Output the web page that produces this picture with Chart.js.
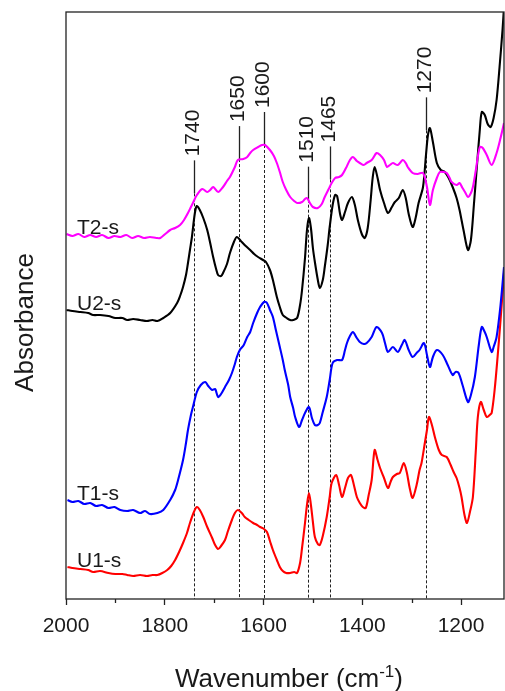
<!DOCTYPE html>
<html>
<head>
<meta charset="utf-8">
<script src="https://cdn.jsdelivr.net/npm/chart.js@4/dist/chart.umd.min.js"></script>
<style>
  html, body { margin: 0; padding: 0; background: #fff; }
  canvas { display: block; }
</style>
</head>
<body>
<canvas id="ftir" width="505" height="691"></canvas>
<script>
// FTIR spectra, stacked with vertical offsets (absorbance, arbitrary units)
const waveT2 = [1999,1987,1975,1963,1951,1939,1927,1914,1902,1890,1878,1866,1854,1842,1830,1817,1809,1799,1789,1779,1769,1761,1753,1747,1743,1735,1724,1714,1708,1702,1692,1682,1674,1668,1658,1652,1641,1633,1627,1621,1611,1603,1597,1587,1579,1573,1567,1561,1554,1546,1538,1532,1522,1516,1512,1506,1500,1490,1482,1476,1468,1462,1455,1447,1441,1433,1425,1419,1411,1405,1397,1391,1381,1371,1364,1356,1350,1344,1338,1328,1318,1312,1308,1298,1288,1277,1269,1263,1257,1249,1243,1235,1229,1223,1219,1209,1203,1197,1192,1186,1180,1176,1170,1162,1156,1148,1138,1128,1120,1113];
const absT2 = [365,363,365,362,364,362,364,361,363,362,364,361,363,361,362,361,361,365,369,371,374,379,386,392,396,404,410,407,409,412,407,412,418,422,432,439,440,442,446,449,452,454,454,449,443,436,427,417,409,402,398,396,397,400,401,396,392,391,395,402,410,416,421,422,424,431,439,442,438,436,434,436,439,446,444,439,432,434,436,434,439,436,432,426,425,426,412,394,409,421,427,427,426,421,417,414,416,411,407,402,406,412,429,452,451,444,434,446,461,476];

const waveU2 = [1999,1987,1971,1955,1945,1931,1914,1900,1886,1876,1864,1850,1836,1825,1815,1803,1789,1775,1769,1763,1757,1753,1749,1745,1739,1735,1729,1722,1714,1708,1702,1696,1692,1686,1682,1674,1668,1660,1654,1644,1636,1627,1619,1611,1601,1595,1587,1581,1573,1567,1561,1553,1546,1540,1532,1526,1522,1516,1512,1508,1504,1500,1496,1490,1486,1480,1476,1470,1466,1460,1455,1451,1445,1441,1435,1429,1421,1415,1409,1401,1395,1389,1383,1379,1375,1369,1364,1356,1348,1340,1334,1326,1318,1312,1306,1298,1292,1286,1277,1271,1267,1263,1257,1249,1241,1233,1225,1217,1209,1203,1195,1186,1180,1174,1168,1162,1158,1152,1146,1140,1134,1128,1122,1116,1113];
const absU2 = [289,288,287,286,284,284,283,281,281,279,280,279,278,279,278,281,286,296,303,312,324,336,349,362,386,393,389,381,369,356,342,330,324,323,326,335,346,357,362,357,353,349,345,342,339,337,329,319,302,292,284,281,279,279,281,294,309,341,369,381,371,351,337,319,311,319,332,354,372,394,404,403,385,379,387,396,402,394,379,365,361,371,399,421,432,421,409,396,386,392,397,401,409,401,385,372,381,396,412,444,464,471,457,436,429,427,421,412,401,389,369,349,359,394,432,469,487,484,475,472,481,499,532,569,592];

const waveT1 = [1997,1987,1975,1963,1951,1939,1927,1914,1902,1890,1876,1864,1850,1840,1830,1815,1803,1789,1779,1773,1763,1757,1753,1747,1743,1735,1727,1718,1712,1704,1698,1692,1686,1678,1670,1664,1658,1654,1648,1640,1633,1627,1621,1613,1607,1599,1593,1587,1581,1575,1567,1561,1557,1550,1546,1540,1536,1528,1522,1516,1508,1502,1496,1490,1486,1480,1472,1466,1460,1451,1441,1435,1431,1425,1419,1411,1405,1397,1391,1381,1371,1360,1354,1348,1338,1328,1320,1314,1306,1298,1290,1284,1275,1269,1263,1257,1249,1237,1227,1217,1211,1205,1197,1186,1180,1172,1164,1158,1152,1148,1138,1134,1128,1120,1113];
const absT1 = [99,97,98,95,96,93,94,91,92,89,88,89,86,88,85,86,89,99,109,119,139,156,169,184,192,207,214,217,213,209,210,202,205,212,219,226,235,242,249,254,262,267,276,286,292,297,296,289,282,269,252,239,229,214,202,191,182,172,179,186,192,181,174,174,176,187,202,219,236,239,239,249,256,263,267,261,257,255,256,262,272,266,256,247,252,247,254,259,249,242,246,249,256,244,232,242,249,244,234,224,227,226,214,197,204,222,254,272,267,262,247,252,262,294,332];

const waveU1 = [1997,1987,1971,1955,1945,1931,1914,1900,1886,1876,1864,1850,1836,1825,1815,1805,1795,1787,1779,1771,1763,1755,1749,1741,1735,1729,1722,1714,1704,1698,1692,1686,1678,1672,1664,1658,1652,1644,1638,1630,1621,1613,1607,1599,1593,1587,1581,1573,1567,1561,1554,1546,1538,1532,1526,1522,1516,1512,1508,1504,1500,1496,1490,1486,1480,1472,1466,1462,1453,1447,1441,1435,1429,1423,1417,1411,1405,1399,1393,1387,1381,1375,1369,1364,1356,1348,1342,1338,1330,1324,1316,1310,1304,1298,1290,1284,1280,1273,1269,1265,1259,1253,1245,1239,1229,1221,1215,1209,1203,1199,1193,1188,1182,1176,1170,1166,1160,1154,1148,1142,1138,1132,1126,1120,1113];
const absU1 = [32,31,30,29,27,28,26,25,25,24,23,24,23,24,24,26,29,33,39,47,56,66,76,87,92,89,82,72,61,54,50,53,59,68,79,86,89,86,82,79,76,74,72,70,67,58,49,39,32,28,26,26,27,26,36,51,76,94,106,94,77,62,55,54,63,82,102,116,124,114,102,111,121,124,114,102,96,92,91,104,119,149,139,131,121,111,118,122,125,126,136,127,111,101,114,129,136,157,169,182,174,162,149,144,142,134,127,121,111,102,84,76,87,102,149,182,197,189,182,184,186,209,242,279,326];

const seriesNames = ['T2-s', 'U2-s', 'T1-s', 'U1-s'];
const seriesColors = ['#ff00ff', '#000000', '#0000ff', '#ff0000'];

// Assigned band positions (cm-1)
const peakPositions = [1740, 1650, 1600, 1510, 1465, 1270];

// Axis ticks (cm-1)
const xTickValues = [2000, 1900, 1800, 1700, 1600, 1500, 1400, 1300, 1200];

const FONT = "'Liberation Sans', Arial, Helvetica, sans-serif";

function toPoints(wave, abs) {
  return wave.map((w, i) => ({ x: w, y: abs[i] }));
}

const spectra = [
  toPoints(waveT2, absT2),
  toPoints(waveU2, absU2),
  toPoints(waveT1, absT1),
  toPoints(waveU1, absU1)
];

// linear interpolation of a spectrum at a given wavenumber
function valueAt(points, w) {
  for (let i = 0; i < points.length - 1; i++) {
    const a = points[i], b = points[i + 1];
    if ((w <= a.x && w >= b.x) || (w >= a.x && w <= b.x)) {
      const t = (w - a.x) / (b.x - a.x || 1);
      return a.y + t * (b.y - a.y);
    }
  }
  return -Infinity;
}

// highest trace near a band position
function topValue(w) {
  let best = -Infinity;
  spectra.forEach(p => {
    [w - 8, w, w + 8].forEach(s => { best = Math.max(best, valueAt(p, s)); });
  });
  return best;
}

const peakMarkers = {
  id: 'peakMarkers',
  beforeDatasetsDraw(chart) {
    const { ctx, chartArea, scales: { x, y } } = chart;
    ctx.save();
    peakPositions.forEach(w => {
      const px = Math.round(x.getPixelForValue(w)) + 0.5;
      const py = y.getPixelForValue(topValue(w));
      ctx.strokeStyle = '#222';
      ctx.lineWidth = 1;
      ctx.setLineDash([3, 2]);
      ctx.beginPath();
      ctx.moveTo(px, py);
      ctx.lineTo(px, chartArea.bottom);
      ctx.stroke();
      ctx.setLineDash([]);
      ctx.lineWidth = 1.3;
      ctx.beginPath();
      ctx.moveTo(px, py);
      ctx.lineTo(px, py - 33);
      ctx.stroke();
      ctx.save();
      ctx.translate(px - 1, py - 37);
      ctx.rotate(-Math.PI / 2);
      ctx.font = '21px ' + FONT;
      ctx.fillStyle = '#1a1a1a';
      ctx.textAlign = 'left';
      ctx.textBaseline = 'middle';
      ctx.fillText(String(w), 0, 0);
      ctx.restore();
    });
    ctx.restore();
  },
  afterDraw(chart) {
    const { ctx, chartArea, scales: { x, y } } = chart;
    ctx.save();
    // frame
    ctx.strokeStyle = '#222';
    ctx.lineWidth = 1.3;
    ctx.strokeRect(chartArea.left, chartArea.top, chartArea.right - chartArea.left, chartArea.bottom - chartArea.top);
    // minor ticks
    ctx.lineWidth = 1.3;
    xTickValues.filter(v => v % 200 !== 0).forEach(v => {
      const px = Math.round(x.getPixelForValue(v)) + 0.5;
      ctx.beginPath();
      ctx.moveTo(px, chartArea.bottom);
      ctx.lineTo(px, chartArea.bottom + 4);
      ctx.stroke();
    });
    // series names
    ctx.font = '21px ' + FONT;
    ctx.fillStyle = '#1a1a1a';
    ctx.textAlign = 'left';
    ctx.textBaseline = 'alphabetic';
    spectra.forEach((p, i) => {
      ctx.fillText(seriesNames[i], chartArea.left + 11, y.getPixelForValue(p[0].y));
    });
    // y-axis title
    ctx.save();
    ctx.translate(33, (chartArea.top + chartArea.bottom) / 2 + 17);
    ctx.rotate(-Math.PI / 2);
    ctx.font = '26px ' + FONT;
    ctx.textAlign = 'center';
    ctx.fillText('Absorbance', 0, 0);
    ctx.restore();
    // x-axis title with superscript
    const main = 'Wavenumber (cm', sup = '-1', close = ')';
    ctx.textAlign = 'left';
    ctx.font = '26px ' + FONT;
    const w1 = ctx.measureText(main).width;
    const w3 = ctx.measureText(close).width;
    ctx.font = '17px ' + FONT;
    const w2 = ctx.measureText(sup).width;
    const cx = (chartArea.left + chartArea.right) / 2 + 4;
    let tx = cx - (w1 + w2 + w3) / 2;
    const base = 687;
    ctx.font = '26px ' + FONT;
    ctx.fillText(main, tx, base);
    tx += w1;
    ctx.font = '17px ' + FONT;
    ctx.fillText(sup, tx, base - 10);
    tx += w2;
    ctx.font = '26px ' + FONT;
    ctx.fillText(close, tx, base);
    ctx.restore();
  }
};

new Chart(document.getElementById('ftir'), {
  type: 'line',
  data: {
    datasets: spectra.map((p, i) => ({
      label: seriesNames[i],
      data: p,
      borderColor: seriesColors[i],
      borderWidth: 2.1,
      pointRadius: 0,
      tension: 0.3,
      fill: false
    }))
  },
  options: {
    responsive: false,
    animation: false,
    devicePixelRatio: 1,
    layout: { padding: { left: 66, right: 1, top: 12, bottom: 0 } },
    plugins: { legend: { display: false }, tooltip: { enabled: false } },
    scales: {
      x: {
        type: 'linear',
        reverse: true,
        min: 1113,
        max: 2000,
        afterBuildTicks: s => { s.ticks = xTickValues.map(v => ({ value: v })); },
        afterFit: s => { s.height = 92; },
        ticks: {
          autoSkip: false,
          maxRotation: 0,
          padding: 9,
          color: '#1a1a1a',
          font: { family: FONT, size: 21 },
          callback: v => (v % 200 === 0 ? String(v) : '')
        },
        grid: {
          display: true,
          drawOnChartArea: false,
          drawTicks: true,
          tickLength: 6,
          tickWidth: 1.3,
          tickColor: c => (c.tick && c.tick.value % 200 === 0 ? '#222' : 'rgba(0,0,0,0)')
        },
        border: { display: false }
      },
      y: {
        display: false,
        min: 0,
        max: 587
      }
    }
  },
  plugins: [peakMarkers]
});
</script>
</body>
</html>
